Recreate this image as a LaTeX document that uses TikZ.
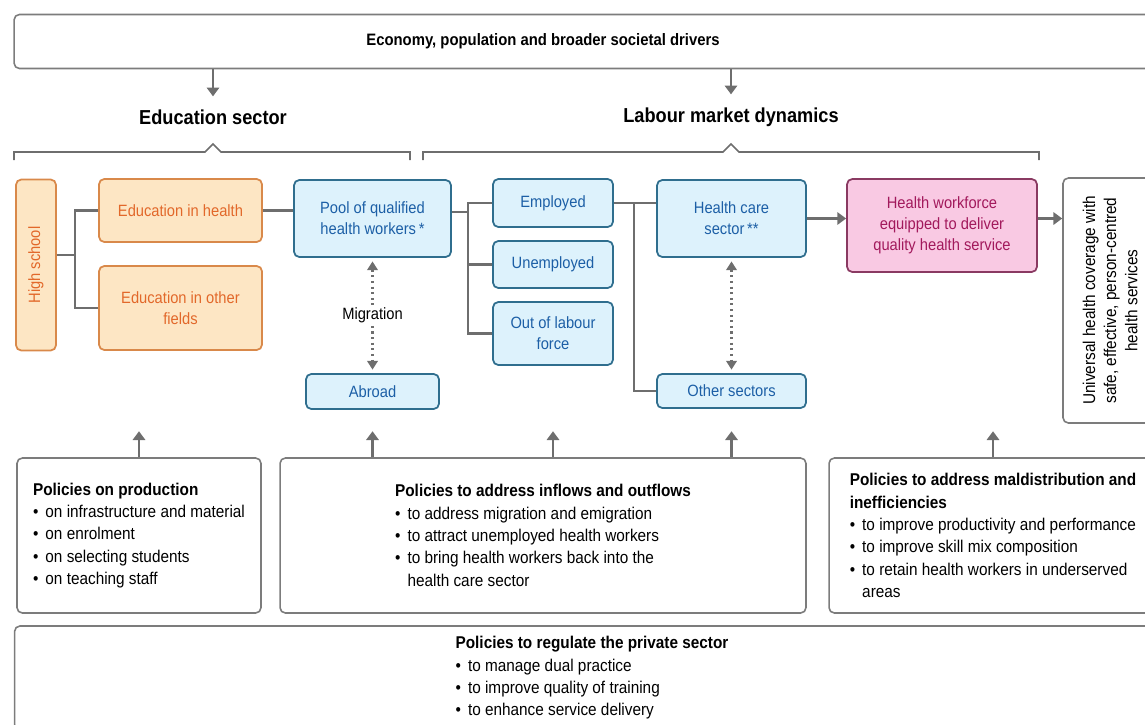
\documentclass[tikz,border=0pt]{standalone}
\usepackage{fontspec}
\setmainfont{Liberation Sans}[FakeStretch=0.9]
\usetikzlibrary{arrows.meta}
\definecolor{linkgray}{HTML}{6E6E6E}
\definecolor{boxgray}{HTML}{7C7C7C}
\definecolor{edufill}{HTML}{FDE6C4}
\definecolor{eduline}{HTML}{D9894A}
\definecolor{edutext}{HTML}{E2682A}
\definecolor{poolfill}{HTML}{DDF2FC}
\definecolor{poolline}{HTML}{2F6E8E}
\definecolor{pooltext}{HTML}{1C5FA6}
\definecolor{wffill}{HTML}{F9C9E3}
\definecolor{wfline}{HTML}{8A3A62}
\definecolor{wftext}{HTML}{A2195C}
\newcommand{\pitem}{\textbullet\hspace{4pt}}
\newcommand{\pindent}{\hphantom{\pitem}}

\begin{document}
\begin{tikzpicture}[x=0.02cm,y=-0.02cm,
    every node/.style={font=\fontsize{9.3}{12}\selectfont},
    box/.style={draw, rounded corners=3pt, line width=1pt, align=center, inner sep=2pt},
    edubox/.style={box, draw=eduline, fill=edufill, text=edutext},
    poolbox/.style={box, draw=poolline, fill=poolfill, text=pooltext},
    wfbox/.style={box, draw=wfline, fill=wffill, text=wftext},
    greybox/.style={box, draw=boxgray, line width=0.9pt, fill=white},
    policy/.style={greybox, align=left, font=\fontsize{9.7}{12.7}\selectfont},
    sector/.style={font=\fontsize{11.5}{13}\selectfont\bfseries},
    link/.style={draw=linkgray, line width=1.6pt},
    arr/.style={link, -{Triangle[width=7pt,length=5pt]}},
    migr/.style={draw=linkgray, line width=1.2pt, dotted,
      {Triangle[width=6pt,length=5pt]}-{Triangle[width=6pt,length=5pt]},
      shorten >=2pt, shorten <=2pt}]
  \useasboundingbox (0,0) rectangle (1145,724);
  \clip (0,0) rectangle (1145,724);

  \node[greybox, minimum width=23cm, minimum height=1.08cm,
    label={[font=\fontsize{9.4}{11}\selectfont\bfseries, xshift=-0.92cm]center:Economy, population and broader societal drivers}]
    (drivers) at (589,41.5) {};
  \node[sector] (edusec) at (213,117) {Education sector};
  \node[sector] (labsec) at (731,117) {Labour market dynamics};
  \draw[arr, shorten >=4pt] (drivers.south -| edusec.north) -- (edusec.north);
  \draw[arr, shorten >=4pt] (drivers.south -| labsec.north) -- (labsec.north);
  \draw[draw=linkgray, line width=0.9pt] (14,160) |- (205,152) -- (213,144) -- (221,152) -| (410,160);
  \draw[draw=linkgray, line width=0.9pt] (423,160) |- (723,152) -- (731,144) -- (739,152) -| (1039,160);

  \node[edubox, minimum width=0.8cm, minimum height=3.42cm] (hs) at (36,265) {\rotatebox{90}{High school}};
  \node[edubox, minimum width=3.26cm, minimum height=1.26cm] (edh) at (180.5,210.5) {Education in health};
  \node[edubox, minimum width=3.26cm, minimum height=1.68cm] (edo) at (180.5,308) {Education in other\\fields};
  \node[poolbox, minimum width=3.14cm, minimum height=1.54cm] (pool) at (372.5,218.5) {Pool of qualified\\health workers\,*};
  \node[poolbox, minimum width=2.66cm, minimum height=0.7cm] (abroad) at (372.5,391.5) {Abroad};
  \node[poolbox, minimum width=2.4cm, minimum height=0.96cm] (emp) at (553,203) {Employed};
  \node[poolbox, minimum width=2.4cm, minimum height=0.94cm] (unemp) at (553,264.5) {Unemployed};
  \node[poolbox, minimum width=2.4cm, minimum height=1.26cm] (olf) at (553,333.5) {Out of labour\\force};
  \node[poolbox, minimum width=2.98cm, minimum height=1.54cm] (hcs) at (731.5,218.5) {Health care\\sector\,**};
  \node[poolbox, minimum width=2.98cm, minimum height=0.68cm] (other) at (731.5,391) {Other sectors};
  \node[wfbox, minimum width=3.8cm, minimum height=1.86cm] (hw) at (942,225.5) {Health workforce\\equipped to deliver\\quality health service};
  \node[greybox, minimum width=1.96cm, minimum height=4.9cm, font=\fontsize{9.7}{12}\selectfont] (uhc) at (1112,300.5)
    {\rotatebox{90}{\begin{tabular}{@{}c@{}}Universal health coverage with\\safe, effective, person-centred\\health services\end{tabular}}};

  \coordinate (j1) at (75,255);
  \coordinate (j2) at (468,212);
  \coordinate (j3) at (634,203);
  \draw[link] (hs.east |- j1) -- (j1);
  \draw[link] (edh.west) -| (j1) |- (edo.west);
  \draw[link] (edh.east) -- (edh.east -| pool.west);
  \draw[link] (pool.east |- j2) -- (j2);
  \draw[link] (emp.west) -| (j2) |- (olf.west);
  \draw[link] (unemp.west) -- (unemp.west -| j2);
  \draw[link] (emp.east) -- (emp.east -| hcs.west);
  \draw[link] (j3) |- (other.west);
  \draw[arr] (hcs.east) -- (hcs.east -| hw.west);
  \draw[arr] (hw.east |- hcs.east) -- (uhc.west |- hcs.east);
  \draw[migr] (pool.south) -- node[fill=white, text=black, inner sep=1pt] {Migration} (abroad.north);
  \draw[migr] (hcs.south) -- (other.north);

  \node[policy, minimum width=4.88cm, minimum height=3.1cm] (prod) at (139,535.5)
    {\textbf{Policies on production}\\
     \pitem on infrastructure and material\\
     \pitem on enrolment\\
     \pitem on selecting students\\
     \pitem on teaching staff};
  \node[policy, minimum width=10.52cm, minimum height=3.1cm] (flow) at (543,535.5)
    {\textbf{Policies to address inflows and outflows}\\
     \pitem to address migration and emigration\\
     \pitem to attract unemployed health workers\\
     \pitem to bring health workers back into the\\
     \pindent health care sector};
  \node[policy, minimum width=6.56cm, minimum height=3.1cm] (mal) at (993,535.5)
    {\textbf{Policies to address maldistribution and}\\
     \textbf{inefficiencies}\\
     \pitem to improve productivity and performance\\
     \pitem to improve skill mix composition\\
     \pitem to retain health workers in underserved\\
     \pindent areas};
  \node[policy, minimum width=23.1cm, minimum height=2.08cm] (priv) at (592,678)
    {\textbf{Policies to regulate the private sector}\\
     \pitem to manage dual practice\\
     \pitem to improve quality of training\\
     \pitem to enhance service delivery};

  \draw[arr] (prod.north) -- ++(0,-26);
  \draw[arr] (flow.north -| abroad) -- ++(0,-26);
  \draw[arr] (flow.north -| olf) -- ++(0,-26);
  \draw[arr] (flow.north -| other) -- ++(0,-26);
  \draw[arr] (mal.north) -- ++(0,-26);
\end{tikzpicture}
\end{document}
